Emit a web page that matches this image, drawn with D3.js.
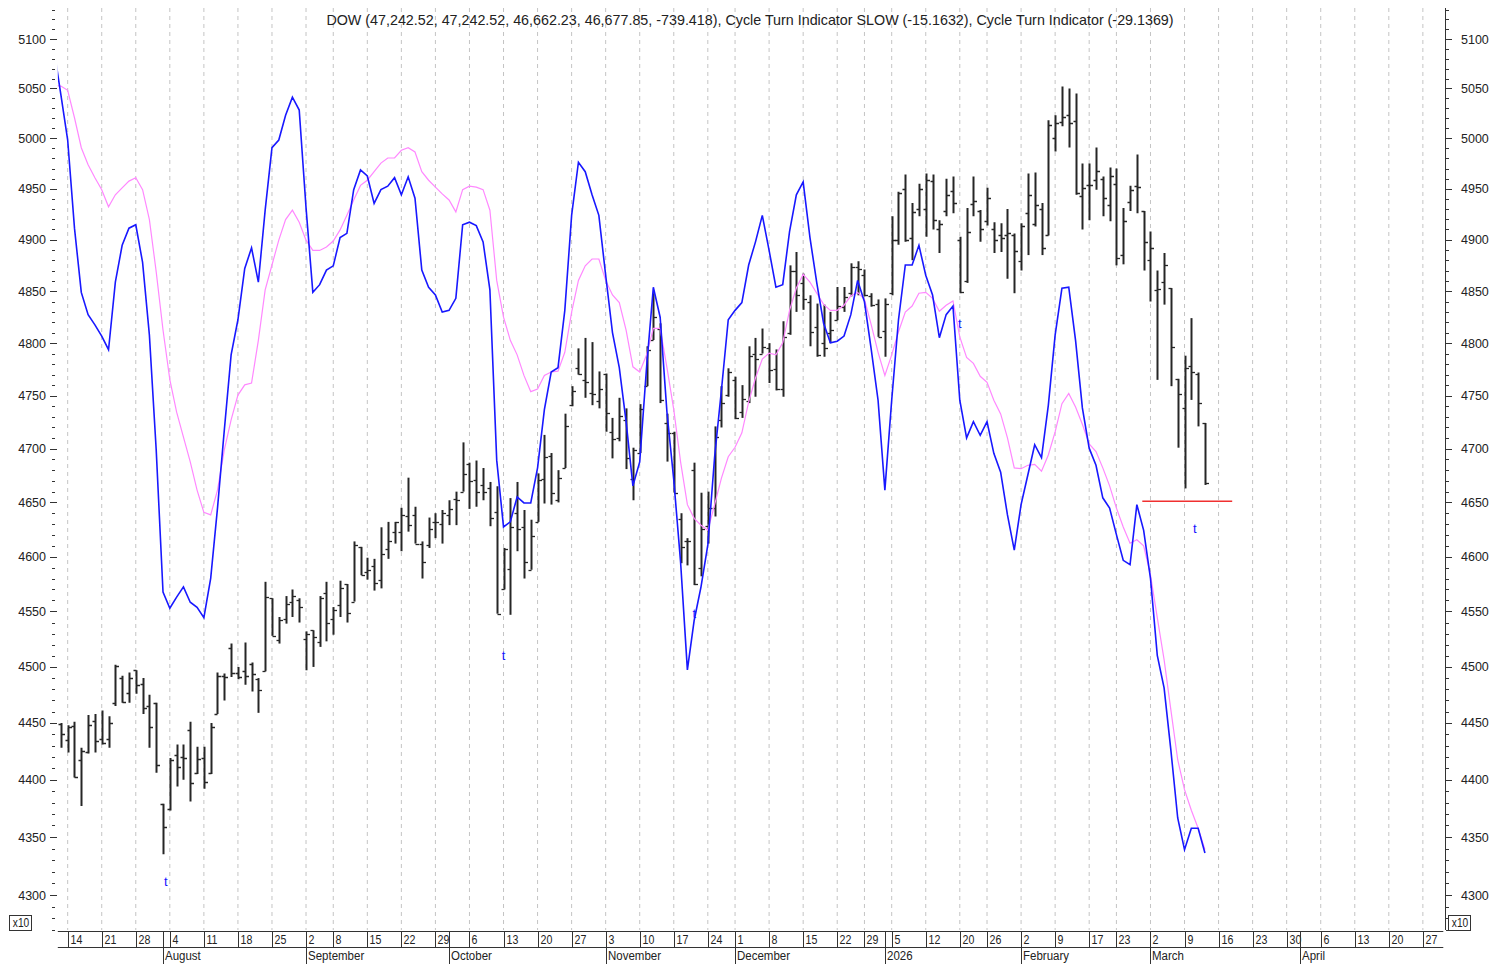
<!DOCTYPE html>
<html><head><meta charset="utf-8">
<script src="https://cdn.jsdelivr.net/npm/d3@7"></script>
<style>
body{margin:0;background:#fff;}
svg{display:block;font-family:"Liberation Sans",Arial,sans-serif;}
</style></head><body>
<svg id="c" width="1507" height="964"></svg>
<script>
// ---- DATA (DOW / 10, daily bars; index 0 = Mon 14 Jul 2025, trading days) ----
const titleText = "DOW (47,242.52, 47,242.52, 46,662.23, 46,677.85, -739.418), Cycle Turn Indicator SLOW (-15.1632), Cycle Turn Indicator (-29.1369)";
const barStart = -1; // first bar: Fri 11 Jul 2025
const opens = [4449,4435,4447,4417,4424,4452,4436,4436,4468,4490,4477,4497,4485,4465,4468,4379,4374,4422,4420,4444,4406,4419,4406,4458,4492,4517,4495,4496,4503,4489,4496,4562,4524,4543,4559,4560,4525,4533,4522,4567,4543,4556,4575,4559,4609,4586,4591,4579,4607,4623,4623,4637,4638,4612,4611,4632,4630,4638,4653,4660,4686,4671,4666,4663,4641,4570,4589,4640,4627,4588,4632,4672,4693,4652,4682,4741,4776,4765,4753,4745,4771,4716,4710,4727,4672,4696,4759,4803,4814,4724,4715,4635,4614,4680,4590,4628,4645,4727,4751,4765,4735,4745,4790,4790,4795,4775,4756,4810,4870,4858,4840,4815,4800,4810,4822,4835,4848,4873,4866,4845,4838,4812,4848,4900,4950,4902,4930,4930,4958,4910,4928,4948,4900,4860,4935,4928,4918,4910,4905,4905,4905,4879,4926,4915,4930,4905,5000,5016,5023,5017,4943,4954,4959,4960,4934,4955,4885,4937,4953,4928,4880,4851,4859,4853,4766,4738,4778,4771,4724.25];
const highs = [4450,4448,4451,4428,4457,4458,4461,4456,4502,4492,4495,4497,4490,4475,4468,4379,4419,4431,4431,4451,4429,4429,4450,4495,4494,4521,4500,4522,4504,4490,4577,4562,4545,4564,4570,4562,4532,4533,4564,4577,4554,4578,4575,4614,4609,4599,4598,4627,4632,4632,4645,4673,4646,4614,4636,4640,4643,4652,4660,4706,4687,4689,4682,4669,4665,4608,4654,4669,4643,4634,4677,4713,4696,4680,4733,4759,4795,4805,4801,4773,4771,4729,4748,4738,4701,4742,4797,4848,4819,4733,4716,4640,4617,4687,4659,4660,4721,4759,4776,4768,4760,4797,4805,4814,4800,4794,4821,4875,4888,4867,4846,4838,4837,4830,4854,4854,4877,4879,4871,4848,4842,4843,4923,4947,4964,4936,4955,4965,4964,4919,4960,4962,4903,4931,4962,4929,4951,4917,4916,4930,4906,4916,4965,4966,4936,5018,5023,5052,5050,5045,4975,4975,4991,4962,4971,4970,4931,4953,4984,4928,4908,4870,4887,4853,4766,4788,4824,4772,4724.25];
const lows = [4428,4424,4402,4377,4423,4424,4431,4428,4465,4468,4468,4476,4458,4428,4406,4335,4373,4394,4400,4381,4405,4392,4405,4458,4470,4491,4489,4484,4478,4459,4496,4528,4521,4539,4545,4540,4497,4500,4518,4523,4529,4545,4540,4559,4583,4579,4569,4571,4598,4612,4605,4623,4612,4580,4608,4617,4612,4629,4629,4660,4644,4646,4652,4628,4548,4570,4547,4605,4580,4588,4632,4649,4648,4650,4682,4740,4770,4748,4741,4738,4716,4691,4707,4681,4652,4696,4759,4803,4743,4688,4659,4594,4592,4574,4582,4612,4637,4720,4749,4728,4729,4743,4749,4790,4762,4755,4749,4808,4830,4832,4797,4787,4787,4800,4822,4830,4845,4846,4845,4835,4806,4787,4846,4895,4898,4880,4923,4903,4910,4887,4923,4926,4848,4858,4923,4898,4914,4887,4888,4862,4848,4870,4885,4913,4885,4904,4987,5012,4991,4944,4910,4919,4949,4923,4918,4875,4876,4928,4926,4870,4840,4765,4837,4759,4701,4663,4746,4721,4666.22];
const closes = [4440,4446,4402,4425,4448,4434,4432,4450,4501,4469,4490,4484,4463,4446,4413,4359,4417,4411,4419,4397,4418,4398,4446,4492,4491,4495,4491,4492,4494,4479,4563,4528,4542,4557,4564,4554,4530,4527,4562,4540,4551,4571,4549,4611,4583,4588,4576,4602,4614,4632,4638,4629,4612,4595,4625,4632,4640,4644,4652,4676,4670,4660,4660,4636,4548,4607,4627,4625,4595,4619,4671,4692,4659,4673,4721,4754,4771,4763,4752,4756,4734,4709,4731,4691,4699,4737,4793,4825,4746,4715,4659,4609,4614,4575,4625,4645,4711,4743,4772,4729,4747,4788,4785,4796,4774,4756,4806,4870,4846,4842,4811,4789,4795,4813,4836,4844,4873,4871,4846,4837,4806,4838,4900,4946,4900,4927,4950,4959,4919,4915,4944,4936,4849,4908,4938,4910,4941,4900,4902,4907,4889,4913,4944,4934,4892,5013,5015,5021,5015,4946,4951,4954,4968,4941,4963,4882,4918,4949,4952,4898,4892,4852,4875,4796,4752,4776,4772,4743,4667.79];

// Cycle Turn Indicators (overlay, indicator scale 0..100), first value at index -2
const lineStart = -2;
const ctiSlow = [94.6,94.5,94.0,90.8,87.3,85.3,83.8,82.4,80.4,81.8,82.6,83.4,83.8,82.4,78.9,72.8,66.0,60.2,56.4,53.5,50.6,47.3,44.7,44.4,47.3,52.0,55.5,58.4,59.6,59.8,64.8,70.7,73.6,76.5,78.9,80.0,78.6,76.5,75.3,75.3,75.7,76.4,77.7,79.4,81.2,82.9,83.5,84.5,85.5,86.1,86.1,87.0,87.3,86.8,84.5,83.5,82.7,81.9,81.2,79.8,82.4,82.8,82.7,82.4,80.0,71.8,67.5,64.8,63.1,60.7,58.8,59.1,60.7,61.1,61.2,63.4,68.1,71.8,73.5,74.3,74.3,71.8,70.1,69.2,66.0,61.7,61.1,63.1,66.2,66.2,61.6,56.7,50.6,45.6,44.0,43.2,42.6,45.6,48.7,51.2,52.3,54.0,57.6,60.4,62.6,63.3,63.1,64.5,68.3,70.9,72.5,71.6,70.3,69.0,68.3,68.3,68.9,70.0,70.4,69.6,66.6,63.4,60.7,63.1,65.8,68.1,68.8,70.3,70.4,69.7,68.2,68.9,69.4,65.2,62.8,62.1,60.6,59.9,57.8,56.2,53.4,49.9,49.8,50.2,50.3,49.5,51.4,54.1,57.4,58.6,57.0,55.0,52.7,51.8,49.9,47.8,45.2,43.0,41.1,41.5,40.8,37.4,32.4,27.5,21.6,15.8,12.3,9.9,7.8,5.3];
const cti = [98.7,93.5,88.2,77.9,70.4,67.8,66.6,65.3,63.7,71.6,75.9,77.9,78.3,73.9,65.4,52.0,35.4,33.5,34.8,36.0,34.2,33.6,32.4,37.0,45.2,54.3,63.1,67.2,73.2,75.6,71.6,80.0,87.3,88.2,91.1,93.2,91.7,80.3,70.4,71.3,73.0,73.5,76.8,77.3,82.4,84.7,84.0,80.8,82.4,82.8,83.8,81.8,83.9,81.4,73.0,71.0,70.1,68.1,68.3,69.7,78.3,78.6,78.2,76.3,70.7,50.8,43.0,43.6,46.5,45.8,45.8,49.9,56.7,61.1,61.6,68.3,79.4,85.6,84.5,81.8,79.4,72.4,65.7,61.6,55.3,47.8,50.6,61.6,71.0,67.5,56.4,48.5,38.9,26.3,32.1,36.0,40.9,51.2,59.0,67.2,68.3,69.2,73.6,76.3,79.4,75.3,71.0,71.3,77.5,81.8,83.3,76.8,71.5,66.8,64.5,64.7,65.3,67.8,71.8,69.3,63.7,57.8,47.3,57.8,67.2,73.6,73.6,75.9,72.4,70.1,65.1,67.8,68.8,57.8,53.4,55.3,53.7,55.3,51.6,49.4,44.4,40.3,45.6,49.1,52.6,51.1,57.2,65.4,70.9,71.0,64.8,56.9,52.2,50.2,46.4,45.2,42.1,39.1,38.6,45.6,42.6,37.0,28.0,24.2,16.9,9.0,5.3,7.8,7.8,4.9];

// turn markers "t" (trading-day index, price level) and support line
const turnIdx = [14.4, 64, 92, 131, 165.5];
const turnLevel = [4312, 4511, 4549, 4819, 4626];
const supportFrom = 157.8, supportTo = 171, supportLevel = 4651;

// axis labels
const weekStarts = [0,5,10,15,20,25,30,35,39,44,49,54,59,64,69,74,79,84,89,94,98,103,108,113,117,121,126,131,135,140,145,150,154,159,164,169,174,179,184,189,194,199];
const weekLabels = ["14","21","28","4","11","18","25","2","8","15","22","29","6","13","20","27","3","10","17","24","1","8","15","22","29","5","12","20","26","2","9","17","23","2","9","16","23","30","6","13","20","27"];
const monthStarts = [14,35,56,79,98,120,140,159,181];
const monthLabels = ["August","September","October","November","December","2026","February","March","April"];
const priceTicks = d3.range(4300, 5101, 50);
const minorTicks = d3.range(4270, 5131, 10);

// ---- LAYOUT ----
const svg = d3.select("#c");
const plotL = 57.8, plotR = 1443.3, plotT = 8, plotB = 930;
const x = d3.scaleLinear().domain([-1.45, 202]).range([plotL, plotR]);
const y = d3.scaleLog().domain([4300, 5100]).range([895, 39]);
const yi = d3.scaleLinear().domain([0, 100]).range([895, 39]);

svg.append("defs").append("clipPath").attr("id","clip")
  .append("rect").attr("x",plotL).attr("y",plotT).attr("width",plotR-plotL).attr("height",plotB-plotT);

// grid
svg.append("g").selectAll("line").data(weekStarts).join("line")
  .attr("x1",d=>x(d)).attr("x2",d=>x(d)).attr("y1",plotT).attr("y2",plotB)
  .attr("stroke","#c4c4c4").attr("stroke-width",1).attr("stroke-dasharray","4,4");

// title
svg.append("text").attr("x",750).attr("y",25).attr("text-anchor","middle")
  .attr("font-size","14.3px").attr("fill","#222").text(titleText);

// left ticks & labels
const la = svg.append("g");
la.selectAll("line.mi").data(minorTicks).join("line").attr("class","mi")
  .attr("x1",52).attr("x2",55).attr("y1",d=>Math.round(y(d))+0.5).attr("y2",d=>Math.round(y(d))+0.5)
  .attr("stroke","#333");
la.selectAll("line.ma").data(priceTicks).join("line").attr("class","ma")
  .attr("x1",50).attr("x2",57).attr("y1",d=>Math.round(y(d))+0.5).attr("y2",d=>Math.round(y(d))+0.5)
  .attr("stroke","#333");
la.selectAll("text").data(priceTicks).join("text")
  .attr("x",46).attr("y",d=>y(d)+4.5).attr("text-anchor","end")
  .attr("font-size","12.5px").attr("fill","#222").text(d=>d);

// right axis
const ra = svg.append("g");
ra.append("line").attr("x1",1445.5).attr("x2",1445.5).attr("y1",plotT).attr("y2",plotB).attr("stroke","#333");
ra.selectAll("line.mi").data(minorTicks).join("line").attr("class","mi")
  .attr("x1",1446).attr("x2",1449).attr("y1",d=>Math.round(y(d))+0.5).attr("y2",d=>Math.round(y(d))+0.5)
  .attr("stroke","#333");
ra.selectAll("line.ma").data(priceTicks).join("line").attr("class","ma")
  .attr("x1",1446).attr("x2",1452).attr("y1",d=>Math.round(y(d))+0.5).attr("y2",d=>Math.round(y(d))+0.5)
  .attr("stroke","#333");
ra.selectAll("text").data(priceTicks).join("text")
  .attr("x",1461).attr("y",d=>y(d)+4.5).attr("text-anchor","start")
  .attr("font-size","12.5px").attr("fill","#222").text(d=>d);

// x10 boxes
[[9,31],[1448,1470]].forEach(([a,b])=>{
  svg.append("rect").attr("x",a+0.5).attr("y",915.5).attr("width",b-a).attr("height",15)
    .attr("fill","none").attr("stroke","#333");
  svg.append("text").attr("transform",`translate(${(a+b)/2+1},927) scale(0.85,1)`).attr("text-anchor","middle")
    .attr("font-size","12px").attr("fill","#222").text("x10");
});

// bottom date axis
const ax = svg.append("g");
ax.append("line").attr("x1",plotL).attr("x2",plotR).attr("y1",931.5).attr("y2",931.5).attr("stroke","#333");
ax.append("line").attr("x1",plotL).attr("x2",plotR).attr("y1",947.5).attr("y2",947.5).attr("stroke","#333");
ax.selectAll("line.w").data(weekStarts).join("line").attr("class","w")
  .attr("x1",d=>Math.round(x(d))+0.5).attr("x2",d=>Math.round(x(d))+0.5).attr("y1",931).attr("y2",947)
  .attr("stroke","#333");
ax.selectAll("text.w").data(weekStarts).join("text").attr("class","w")
  .attr("transform",d=>`translate(${Math.round(x(d))+2.5},944) scale(0.85,1)`)
  .attr("font-size","12.5px").attr("fill","#222")
  .text((d,i)=>weekLabels[i]);
ax.selectAll("line.m").data(monthStarts).join("line").attr("class","m")
  .attr("x1",d=>Math.round(x(d))+0.5).attr("x2",d=>Math.round(x(d))+0.5).attr("y1",931).attr("y2",964)
  .attr("stroke","#333");
ax.selectAll("text.m").data(monthStarts).join("text").attr("class","m")
  .attr("transform",d=>`translate(${Math.round(x(d))+2},960) scale(0.92,1)`)
  .attr("font-size","12.5px").attr("fill","#222")
  .text((d,i)=>monthLabels[i]);

// plot content
const g = svg.append("g").attr("clip-path","url(#clip)");

// OHLC bars
const bars = opens.map((o,k)=>({i:barStart+k,o,h:highs[k],l:lows[k],c:closes[k]}));
const bg = g.append("g").attr("stroke","#262626");
bars.forEach(b=>{
  const xx = Math.round(x(b.i))+0.5;
  bg.append("line").attr("x1",xx).attr("x2",xx).attr("y1",y(b.h)).attr("y2",y(b.l)).attr("stroke-width",2);
  bg.append("line").attr("x1",xx-3).attr("x2",xx).attr("y1",Math.round(y(b.o))+0.5).attr("y2",Math.round(y(b.o))+0.5).attr("stroke-width",1.3);
  bg.append("line").attr("x1",xx).attr("x2",xx+3.5).attr("y1",Math.round(y(b.c))+0.5).attr("y2",Math.round(y(b.c))+0.5).attr("stroke-width",1.3);
});

// indicator lines
const line = d3.line().x(d=>x(d[0])).y(d=>yi(d[1]));
g.append("path").datum(ctiSlow.map((v,k)=>[lineStart+k,v]))
  .attr("d",line).attr("fill","none").attr("stroke","#ff88ff").attr("stroke-width",1.2);
g.append("path").datum(cti.map((v,k)=>[lineStart+k,v]))
  .attr("d",line).attr("fill","none").attr("stroke","#1818ff").attr("stroke-width",1.6);

// support line
g.append("line").attr("x1",x(supportFrom)).attr("x2",x(supportTo))
  .attr("y1",y(supportLevel)).attr("y2",y(supportLevel)).attr("stroke","#f03030").attr("stroke-width",1.5);

// turn markers
g.selectAll("text.t").data(turnIdx).join("text").attr("class","t")
  .attr("x",d=>x(d)).attr("y",(d,k)=>y(turnLevel[k])+5).attr("text-anchor","middle")
  .attr("font-size","13px").attr("fill","#1515ff").text("t");
</script>
</body></html>
